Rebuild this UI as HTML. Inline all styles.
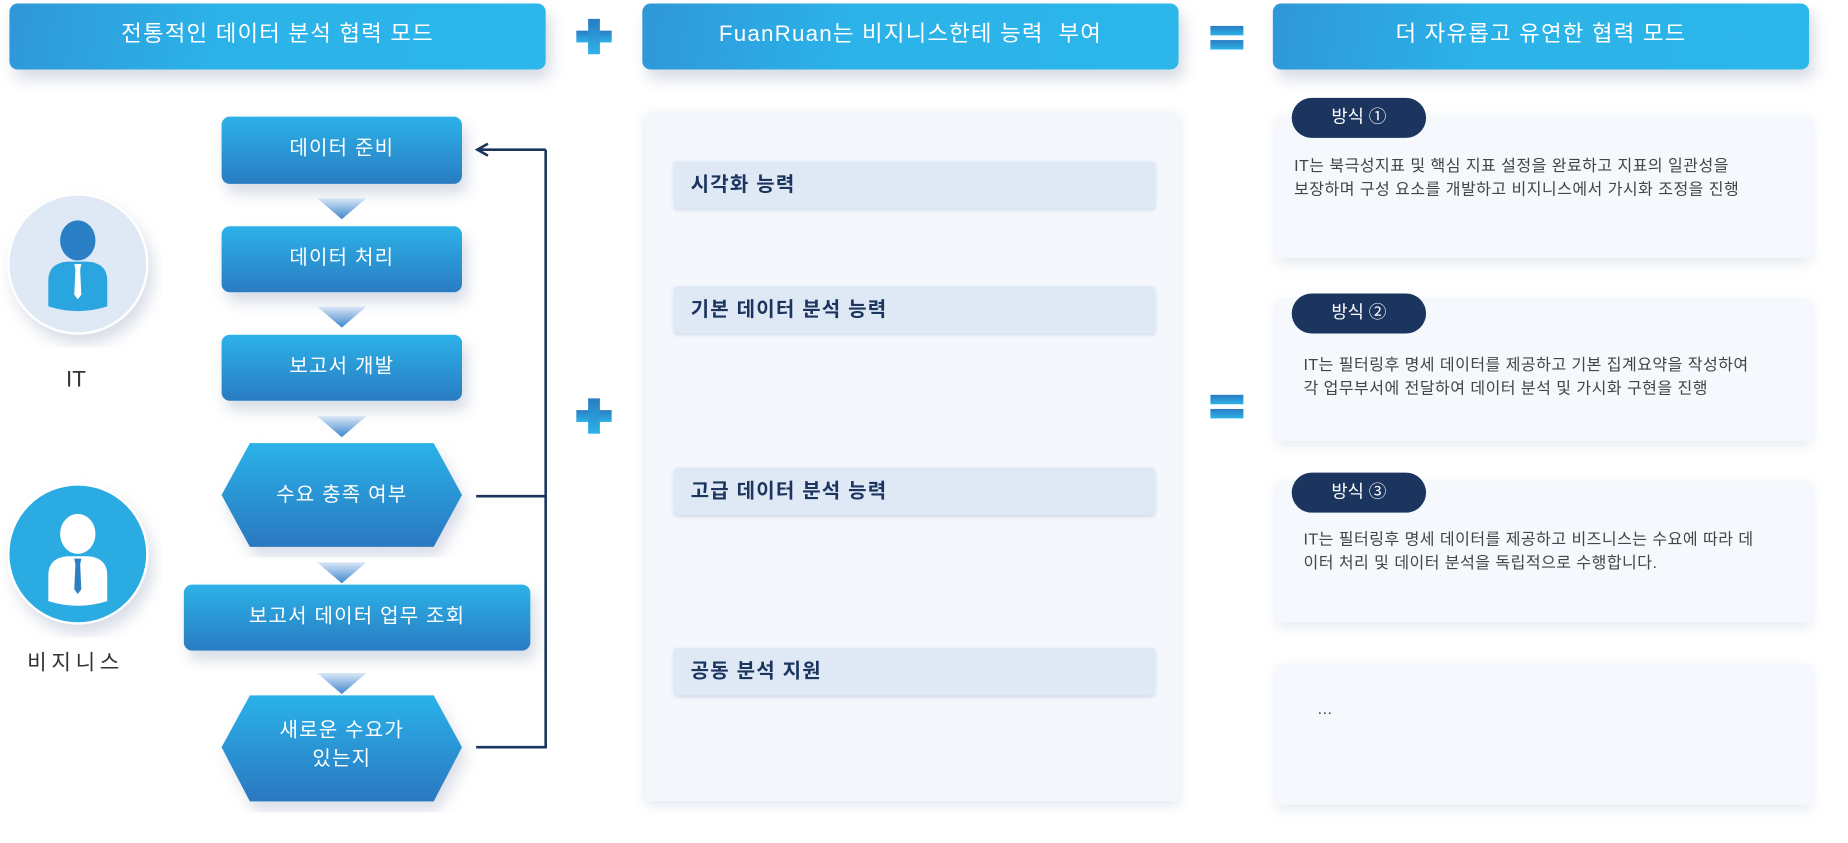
<!DOCTYPE html>
<html><head><meta charset="utf-8"><style>
html,body{margin:0;padding:0;background:#fff;width:1848px;height:842px;overflow:hidden}
#w{position:absolute;left:0;top:0;width:1568px;height:715px;transform:scale(1.17857);transform-origin:0 0;font-family:"Liberation Sans","Noto Sans CJK KR",sans-serif}
.a{position:absolute}
.hd{position:absolute;top:3px;height:56px;width:455px;border-radius:7px;background:linear-gradient(100deg,#2f97d8,#2bb3e9 40%,#2db6ea);color:#fff;font-size:19px;text-align:center;line-height:54px;box-shadow:4px 8px 12px rgba(120,140,170,.3);letter-spacing:1px}
.bx{position:absolute;border-radius:7px;background:linear-gradient(#2cb2e8,#2a7cc2);color:#fff;font-size:17px;text-align:center;box-shadow:4px 8px 12px rgba(120,140,170,.3);letter-spacing:1px}
.tri{position:absolute;width:42px;height:18px;clip-path:polygon(0 0,100% 0,50% 100%);background:linear-gradient(#dbe8f6,#3d86cc)}
.bar{position:absolute;left:572px;width:408px;height:40px;background:#dfe9f6;border-radius:3px;box-shadow:0 1px 3px rgba(150,170,200,.4);font-weight:bold;font-size:17px;color:#1b355e;line-height:40px;padding-left:14px;box-sizing:border-box;letter-spacing:1px}
.card{position:absolute;left:1083px;width:454px;background:#f5f8fd;box-shadow:0 4px 10px rgba(150,170,200,.25)}
.pill{position:absolute;left:1096px;width:114px;height:34px;border-radius:17px;background:#1b355e;color:#fff;font-size:15px;line-height:34px;text-align:center}
.txt{position:absolute;font-size:13.6px;color:#444;line-height:20px;letter-spacing:.4px}
</style></head><body><div id="w">
<div class="hd" style="left:8px">전통적인 데이터 분석 협력 모드</div>
<div class="hd" style="left:545px">FuanRuan는 비지니스한테 능력&nbsp; 부여</div>
<div class="hd" style="left:1080px">더 자유롭고 유연한 협력 모드</div>

<svg class="a" style="left:0;top:0" width="1568" height="715">
<defs><linearGradient id="pg" x1="0" y1="0" x2="0" y2="1"><stop offset="0" stop-color="#2a7cc2"/><stop offset="1" stop-color="#2cb2e8"/></linearGradient>
<linearGradient id="hx" x1="0" y1="0" x2="0" y2="1"><stop offset="0" stop-color="#2cb2e8"/><stop offset="1" stop-color="#2a78c0"/></linearGradient>
<filter id="sh"><feDropShadow dx="4" dy="8" stdDeviation="6" flood-color="#8090b0" flood-opacity=".3"/></filter></defs>
<g fill="url(#pg)"><rect x="489" y="26" width="30" height="10"/><rect x="499" y="16" width="10" height="30"/>
<rect x="489" y="348" width="30" height="10"/><rect x="499" y="338" width="10" height="30"/></g>
<g fill="url(#pg)"><rect x="1027" y="22" width="28" height="8"/><rect x="1027" y="34" width="28" height="8"/>
<rect x="1027" y="335" width="28" height="8"/><rect x="1027" y="347" width="28" height="8"/></g>
<circle cx="66" cy="224" r="59" fill="#dfe9f6" stroke="#fff" stroke-width="2" filter="url(#sh)"/>
<circle cx="66" cy="470" r="59" fill="#2aace3" stroke="#fff" stroke-width="2" filter="url(#sh)"/>
<ellipse cx="66" cy="204" rx="15" ry="17" fill="#2b7fc4"/>
<path d="M41 260 V238 Q41 223 58 222 H74 Q91 223 91 238 V260 Q66 268 41 260Z" fill="#2aa5df"/>
<path d="M63 224 H69 L68 229 L69 250 L66 254 L63 250 L64 229Z" fill="#fff"/>
<ellipse cx="66" cy="453" rx="15" ry="17" fill="#fff"/>
<path d="M41 510 V488 Q41 473 58 472 H74 Q91 473 91 488 V510 Q66 518 41 510Z" fill="#fff"/>
<path d="M63 474 H69 L68 479 L69 500 L66 504 L63 500 L64 479Z" fill="#2b7fc4"/>
<polygon points="212,376 368,376 392,420 368,464 212,464 188,420" fill="url(#hx)" filter="url(#sh)"/>
<polygon points="212,590 368,590 392,634 368,680 212,680 188,634" fill="url(#hx)" filter="url(#sh)"/>
<g stroke="#1b355e" stroke-width="2.2" fill="none">
<path d="M404 421 H463 M404 634 H463 M463 127 V635 M463 127 H406"/>
<path d="M414 122 L405 127 L414 132"/></g>
</svg>
<div class="a" style="left:548px;top:95px;width:452px;height:585px;background:#f4f7fc;box-shadow:0 3px 10px rgba(150,170,200,.3);border-radius:3px"></div>

<div class="bx" style="left:188px;top:99px;width:204px;height:57px;line-height:54px">데이터 준비</div>
<div class="bx" style="left:188px;top:192px;width:204px;height:56px;line-height:54px">데이터 처리</div>
<div class="bx" style="left:188px;top:284px;width:204px;height:56px;line-height:54px">보고서 개발</div>
<div class="a" style="left:188px;top:405px;width:204px;text-align:center;color:#fff;font-size:17px;letter-spacing:1px">수요 충족 여부</div>
<div class="bx" style="left:156px;top:496px;width:294px;height:56px;line-height:54px">보고서 데이터 업무 조회</div>
<div class="a" style="left:188px;top:608px;width:204px;text-align:center;color:#fff;font-size:17px;line-height:24px;letter-spacing:1px">새로운 수요가<br>있는지</div>
<div class="tri" style="left:269px;top:168px"></div>
<div class="tri" style="left:269px;top:260px"></div>
<div class="tri" style="left:269px;top:353px"></div>
<div class="tri" style="left:269px;top:477px"></div>
<div class="tri" style="left:269px;top:571px"></div>

<div class="a" style="left:56px;top:312px;font-size:19px;color:#333">IT</div>
<div class="a" style="left:23px;top:548px;font-size:18px;color:#333;letter-spacing:4px">비지니스</div>

<div class="bar" style="top:137px">시각화 능력</div>
<div class="bar" style="top:243px">기본 데이터 분석 능력</div>
<div class="bar" style="top:397px">고급 데이터 분석 능력</div>
<div class="bar" style="top:550px">공동 분석 지원</div>

<div class="card" style="top:98px;height:121px"></div>
<div class="card" style="top:253px;height:121px"></div>
<div class="card" style="top:408px;height:120px"></div>
<div class="card" style="top:563px;height:120px"></div>
<div class="pill" style="top:83px">방식 ①</div>
<div class="pill" style="top:249px">방식 ②</div>
<div class="pill" style="top:401px">방식 ③</div>
<div class="txt" style="left:1098px;top:131px">IT는 북극성지표 및 핵심 지표 설정을 완료하고 지표의 일관성을<br>보장하며 구성 요소를 개발하고 비지니스에서 가시화 조정을 진행</div>
<div class="txt" style="left:1106px;top:300px">IT는 필터링후 명세 데이터를 제공하고 기본 집계요약을 작성하여<br>각 업무부서에 전달하여 데이터 분석 및 가시화 구현을 진행</div>
<div class="txt" style="left:1106px;top:448px">IT는 필터링후 명세 데이터를 제공하고 비즈니스는 수요에 따라 데<br>이터 처리 및 데이터 분석을 독립적으로 수행합니다.</div>
<div class="txt" style="left:1118px;top:592px">...</div>
</div></body></html>
